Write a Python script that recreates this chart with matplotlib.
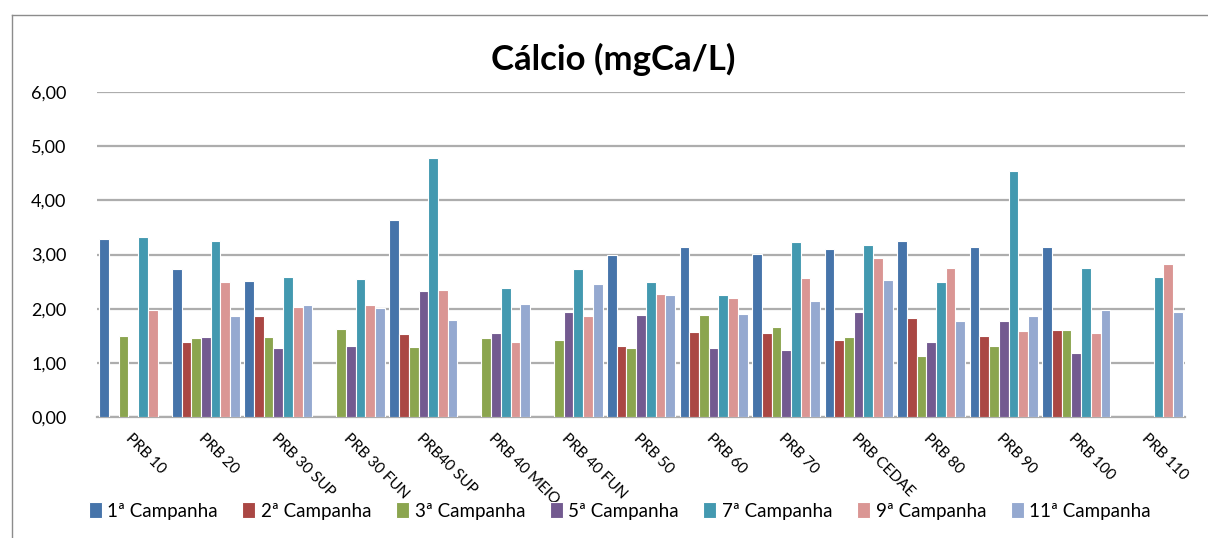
import numpy as np
import matplotlib
matplotlib.use('Agg')
import matplotlib.pyplot as plt
from matplotlib.lines import Line2D
from matplotlib.ticker import FuncFormatter

plt.rcParams['font.family'] = ['Lato', 'DejaVu Sans']

pontos = ['PRB 10', 'PRB 20', 'PRB 30 SUP', 'PRB 30 FUN', 'PRB40 SUP', 'PRB 40 MEIO',
          'PRB 40 FUN', 'PRB 50', 'PRB 60', 'PRB 70', 'PRB CEDAE', 'PRB 80', 'PRB 90',
          'PRB 100', 'PRB 110']

campanhas = ['1ª Campanha', '2ª Campanha', '3ª Campanha', '5ª Campanha',
             '7ª Campanha', '9ª Campanha', '11ª Campanha']

nan = np.nan
c1 = [3.29, 2.74, 2.52, nan, 3.64, nan, nan, 3.00, 3.13, 3.01, 3.10, 3.25, 3.13, 3.13, nan]
c2 = [nan, 1.38, 1.86, nan, 1.53, nan, nan, 1.32, 1.57, 1.55, 1.43, 1.82, 1.49, 1.61, nan]
c3 = [1.49, 1.45, 1.47, 1.63, 1.30, 1.45, 1.42, 1.28, 1.88, 1.67, 1.47, 1.12, 1.32, 1.61, nan]
c5 = [nan, 1.47, 1.28, 1.32, 2.33, 1.55, 1.93, 1.88, 1.28, 1.24, 1.94, 1.38, 1.77, 1.18, nan]
c7 = [3.33, 3.25, 2.59, 2.55, 4.78, 2.39, 2.74, 2.49, 2.25, 3.23, 3.17, 2.50, 4.54, 2.76, 2.59]
c9 = [1.98, 2.49, 2.04, 2.06, 2.35, 1.38, 1.86, 2.28, 2.20, 2.57, 2.94, 2.76, 1.59, 1.55, 2.82]
c11 = [nan, 1.86, 2.06, 2.01, 1.80, 2.08, 2.45, 2.25, 1.90, 2.14, 2.53, 1.77, 1.86, 1.98, 1.93]

series = [c1, c2, c3, c5, c7, c9, c11]
cores = ['#4674AA', '#AA4744', '#8BA54F', '#735A90', '#4399B0', '#DA9694', '#95A9D0']

fig = plt.figure(figsize=(12.08, 5.38), dpi=100)
ax = fig.add_axes([0.0803, 0.2249, 0.9007, 0.604])

x = np.arange(len(pontos))
step = 0.134
for i, (vals, cor, nome) in enumerate(zip(series, cores, campanhas)):
    ax.bar(x + (i - 3) * step, vals, width=step, color=cor, edgecolor='white',
           linewidth=0.8, label=nome, zorder=3)

ax.set_xlim(-0.5, len(pontos) - 0.5)
ax.set_ylim(0, 6)
ax.set_yticks(np.arange(0, 7, 1))
ax.yaxis.set_major_formatter(FuncFormatter(lambda v, p: f'{v:.2f}'.replace('.', ',')))
ax.grid(axis='y', color='#ADADAD', linewidth=1.6, zorder=0)
for s in ['top', 'right', 'left']:
    ax.spines[s].set_visible(False)
ax.spines['bottom'].set_color('#ADADAD')
ax.spines['bottom'].set_linewidth(1.6)
ax.tick_params(axis='y', length=0, labelsize=13, pad=22)
ax.tick_params(axis='x', length=0, labelsize=11, pad=10)
ax.set_xticks(x)
ax.set_xticklabels(pontos, rotation=-45, ha='left', va='top', rotation_mode='anchor')

fig.text(0.508, 0.89, 'Cálcio (mgCa/L)', ha='center', va='center',
         fontsize=25, fontweight='bold')

fig.legend(loc='center', bbox_to_anchor=(0.513, 0.05), ncol=7, frameon=False,
           fontsize=13.5, handlelength=0.7, handleheight=0.9, handletextpad=0.3,
           columnspacing=1.3)

# moldura do grafico
fig.add_artist(Line2D([12 / 1208, 12 / 1208], [0, 1 - 15 / 538], color='#8C8C8C', lw=1))
fig.add_artist(Line2D([12 / 1208, 1], [1 - 15 / 538, 1 - 15 / 538], color='#8C8C8C', lw=1))

plt.savefig('out.png', dpi=100)
